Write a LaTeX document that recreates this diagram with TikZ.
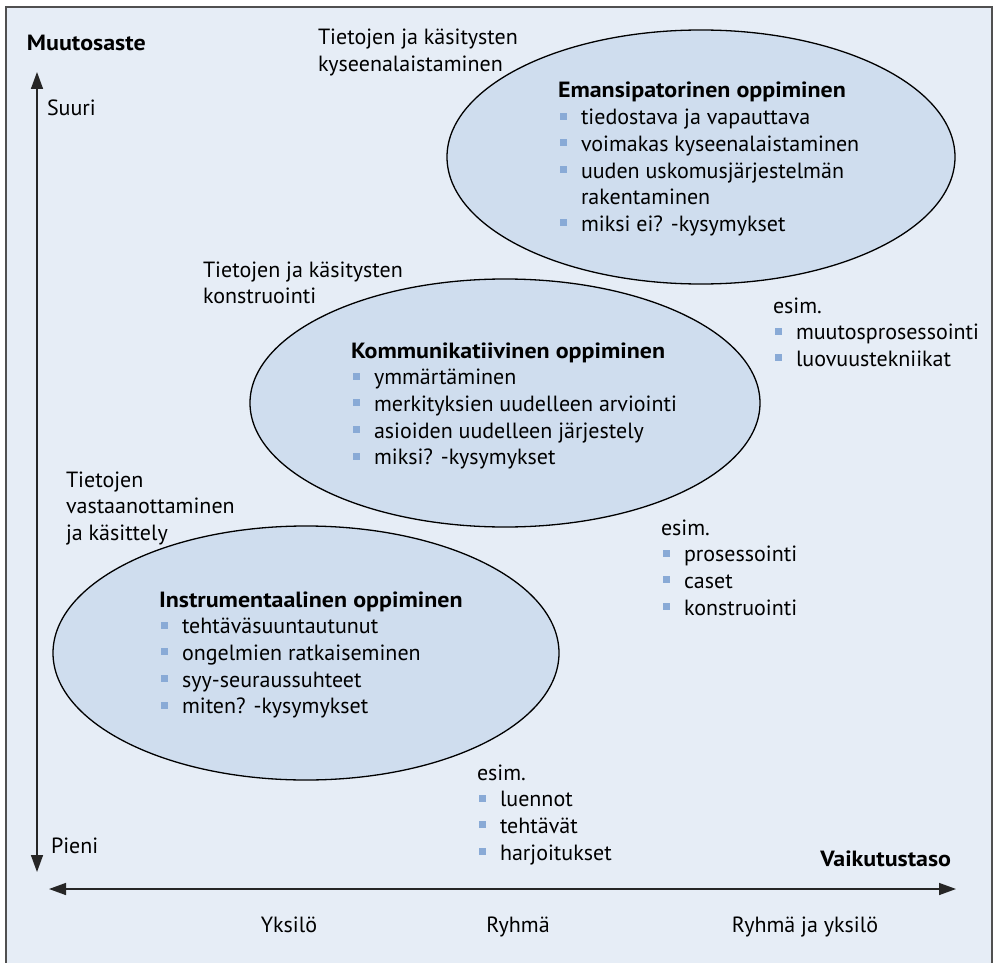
\documentclass[tikz,border=0pt]{standalone}
\usepackage{fontspec}
\setmainfont{PT Sans}[BoldFeatures={FakeStretch=1.09}]
\usetikzlibrary{arrows.meta,shapes.geometric}
\definecolor{bgc}{RGB}{230,237,246}
\definecolor{elc}{RGB}{207,221,238}
\definecolor{bulc}{RGB}{137,170,214}
\definecolor{framec}{RGB}{80,80,80}
% square list bullet and the matching indent for continuation lines
\newcommand{\bl}{\makebox[23pt][l]{\hspace{2pt}\textcolor{bulc}{\rule[5pt]{7pt}{7pt}}}}
\newcommand{\bc}{\hspace*{23pt}}
\newcommand{\blk}[1]{\begin{tabular}[t]{@{}l@{}}#1\end{tabular}}
\begin{document}
\begin{tikzpicture}[x=1pt,y=-1pt,
  every node/.style={inner sep=0pt,outer sep=0pt,font=\fontsize{22}{26.7}\selectfont},
  txt/.style={anchor=base west},
  ell/.style={ellipse,draw=black,line width=1.3pt,fill=elc,minimum width=508pt,minimum height=254pt},
  axis/.style={line width=1.5pt,draw=black!85,{Triangle[length=17pt,width=12pt]}-{Triangle[length=17pt,width=12pt]}}]
\useasboundingbox[fill=white] (0,0) rectangle (999,963);
\draw[framec,line width=2pt,fill=bgc] (6,7) rectangle (992,975);

% the three learning levels
\node[ell] (emo) at (701,157) {};
\node[ell,minimum height=248pt,minimum width=510pt] (kom) at (505,403) {};
\node[ell,minimum width=506pt] (ins) at (306,653) {};

% axes
\coordinate (vtop) at (37,72);
\coordinate (vbot) at (37,872);
\coordinate (hleft) at (49,889);
\coordinate (hright) at (956,889);
\draw[axis] (vtop) -- (vbot);
\draw[axis] (hleft) -- (hright);

\node[txt] (muut) at (27,51) {\textbf{Muutosaste}};
\node[txt] (suuri) at (47,116) {Suuri};
\node[txt] (pieni) at (51,853) {Pieni};
\node[anchor=base east] (vaik) at (951,866) {\textbf{Vaikutustaso}};
\node[anchor=base] (yks) at (289,932) {Yksilö};
\node[anchor=base] (ryh) at (518,932) {Ryhmä};
\node[anchor=base] (ryy) at (805,932) {Ryhmä ja yksilö};

% level captions
\node[txt] (t1) at (318,45) {\blk{Tietojen ja käsitysten\\kyseenalaistaminen}};
\node[txt] (t2) at (203,277) {\blk{Tietojen ja käsitysten\\konstruointi}};
\node[txt] (t3) at (66,487) {\blk{Tietojen\\vastaanottaminen\\ja käsittely}};

% contents of the ellipses
\node[txt] (emt) at (558,98) {\blk{\textbf{Emansipatorinen oppiminen}\\
  \bl tiedostava ja vapauttava\\
  \bl voimakas kyseenalaistaminen\\
  \bl uuden uskomusjärjestelmän\\
  \bc rakentaminen\\
  \bl miksi ei? -kysymykset}};
\node[txt] (kot) at (351,358) {\blk{\textbf{Kommunikatiivinen oppiminen}\\
  \bl ymmärtäminen\\
  \bl merkityksien uudelleen arviointi\\
  \bl asioiden uudelleen järjestely\\
  \bl miksi? -kysymykset}};
\node[txt] (int) at (159,607) {\blk{\textbf{Instrumentaalinen oppiminen}\\
  \bl tehtäväsuuntautunut\\
  \bl ongelmien ratkaiseminen\\
  \bl syy-seuraussuhteet\\
  \bl miten? -kysymykset}};

% examples
\node[txt] (ex1) at (477,780) {\blk{esim.\\\bl luennot\\\bl tehtävät\\\bl harjoitukset}};
\node[txt] (ex2) at (661,535) {\blk{esim.\\\bl prosessointi\\\bl caset\\\bl konstruointi}};
\node[txt] (ex3) at (773,313) {\blk{esim.\\\bl muutosprosessointi\\\bl luovuustekniikat}};
\end{tikzpicture}
\end{document}
